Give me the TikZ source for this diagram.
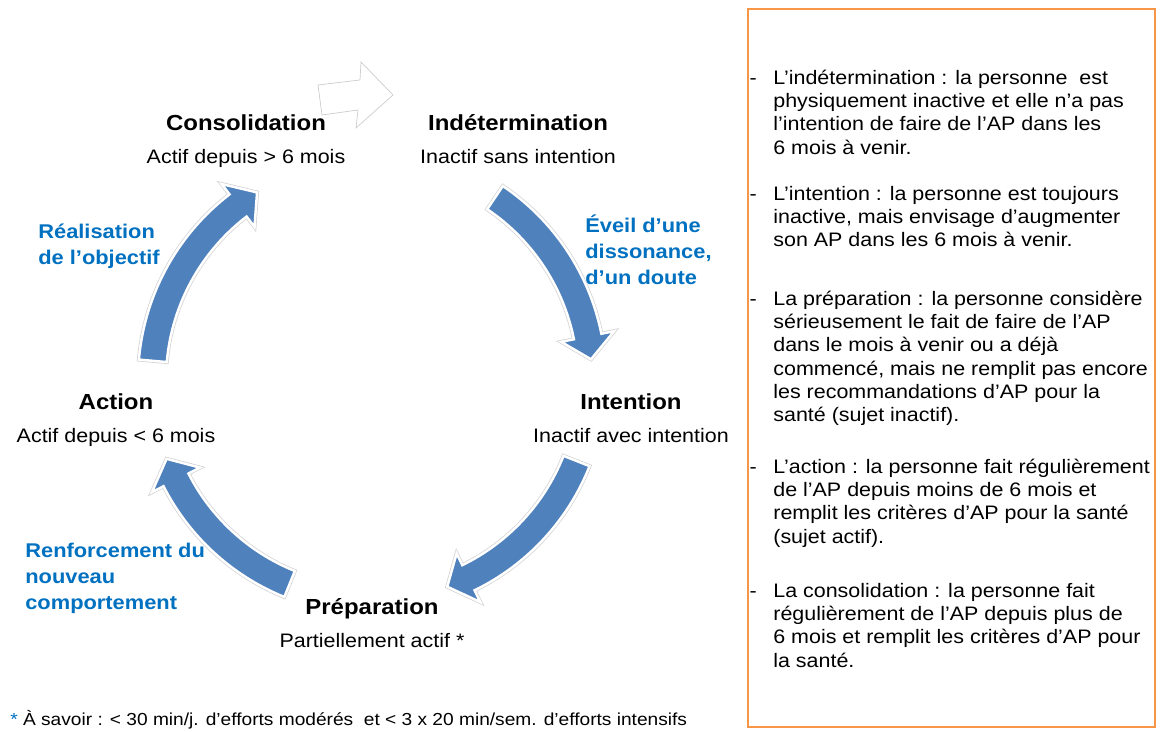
\documentclass[tikz,border=0pt]{standalone}
\usepackage{fontspec}
\setmainfont{Liberation Sans}[FakeStretch=1.1]
\usetikzlibrary{positioning}

\definecolor{cycleblue}{HTML}{4F81BD}
\definecolor{labelblue}{HTML}{0070C0}
\definecolor{boxorange}{HTML}{F79646}

\tikzstyle{stage}=[inner sep=0pt,
                   text height=9pt,
                   text depth=2.5pt,
                   font=\fontsize{12.4}{14}\selectfont\bfseries]
\tikzstyle{stagesub}=[inner sep=0pt,
                      text height=9pt,
                      text depth=2.5pt,
                      font=\fontsize{11.1}{13}\selectfont]
\tikzstyle{steplabel}=[inner sep=0pt,
                       anchor=north west,
                       align=left,
                       text=labelblue,
                       font=\fontsize{11.3}{14.7}\selectfont\bfseries]
\tikzstyle{itemtxt}=[inner sep=0pt,
                     anchor=north west,
                     align=left,
                     font=\fontsize{11.1}{13.2}\selectfont]
\tikzstyle{itemdash}=[inner sep=0pt,
                      anchor=north east,
                      font=\fontsize{11.1}{13.2}\selectfont]
\tikzstyle{arrowbody}=[fill=cycleblue,
                       draw=white,
                       line width=1.4pt,
                       preaction={draw=black!18, line width=2.2pt}]

% thick curved arrow on the circle, from angle #1 to its tip at angle #2 (clockwise)
\newcommand{\cyclearrow}[2]{%
  \path[arrowbody] (#1:234) arc[start angle=#1, end angle={#2+6}, radius=234]
     -- ({#2+6}:247) -- (#2:220) -- ({#2+6}:193) -- ({#2+6}:206)
     arc[start angle={#2+6}, end angle=#1, radius=206] -- cycle;}

\begin{document}
\begin{tikzpicture}[x=0.02cm, y=0.02cm]
    \useasboundingbox (0,0) rectangle (1160,731);

    % the cycle
    \begin{scope}[shift={(372,351)}]
        \cyclearrow{56}{5.4}
        \cyclearrow{-21.6}{-70}
        \cyclearrow{-112}{-159}
        \cyclearrow{175}{121.5}
    \end{scope}
    \draw[black!20, line width=0.4pt] (318,646) -- (360,651) -- (361,669) -- (393,636)
        -- (356,603) -- (358,621) -- (322,616) -- cycle;

    % stages
    \node[stage] (consol) at (246,606) {Consolidation};
    \node[stagesub, below=6.6pt of consol] (consolsub) {Actif depuis > 6 mois};
    \node[stage] (indet) at (518,606) {Indétermination};
    \node[stagesub, below=6.6pt of indet] (indetsub) {Inactif sans intention};
    \node[stage] (intent) at (631,327) {Intention};
    \node[stagesub, below=6.6pt of intent] (intentsub) {Inactif avec intention};
    \node[stage] (prep) at (372,122) {Préparation};
    \node[stagesub, below=6.6pt of prep] (prepsub) {Partiellement actif *};
    \node[stage] (action) at (116,327) {Action};
    \node[stagesub, below=6.6pt of action] (actionsub) {Actif depuis < 6 mois};

    % transitions
    \node[steplabel] (realis) at (38,507) {Réalisation\\de l’objectif};
    \node[steplabel] (eveil) at (585,516) {Éveil d’une\\dissonance,\\d’un doute};
    \node[steplabel] (renfor) at (25,188) {Renforcement du\\nouveau\\comportement};

    % definitions
    \draw[boxorange, line width=1pt] (748,4) rectangle (1155,722);
    \node[itemtxt] (def1) at (773,663) {\strut L’indétermination : la personne\ \ est\\physiquement inactive et elle n’a pas\\l’intention de faire de l’AP dans les\\6 mois à venir.};
    \node[itemtxt] (def2) at (773,547) {\strut L’intention : la personne est toujours\\inactive, mais envisage d’augmenter\\son AP dans les 6 mois à venir.};
    \node[itemtxt] (def3) at (773,442) {\strut La préparation : la personne considère\\sérieusement le fait de faire de l’AP\\dans le mois à venir ou a déjà\\commencé, mais ne remplit pas encore\\les recommandations d’AP pour la\\santé (sujet inactif).};
    \node[itemtxt] (def4) at (773,274) {\strut L’action : la personne fait régulièrement\\de l’AP depuis moins de 6 mois et\\remplit les critères d’AP pour la santé\\(sujet actif).};
    \node[itemtxt] (def5) at (773,150) {\strut La consolidation : la personne fait\\régulièrement de l’AP depuis plus de\\6 mois et remplit les critères d’AP pour\\la santé.};
    \foreach \d in {def1,def2,def3,def4,def5}
        \node[itemdash] at ([xshift=-9pt] \d.north west) {\strut -};

    % footnote
    \node[anchor=west, inner sep=0pt, font=\fontsize{9.9}{12}\selectfont] (note) at (10,11)
        {\textcolor{labelblue}{*} À savoir : < 30 min/j. d’efforts modérés\ \ et < 3 x 20 min/sem. d’efforts intensifs};
\end{tikzpicture}
\end{document}
